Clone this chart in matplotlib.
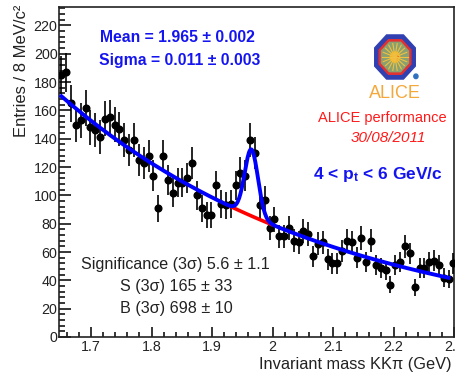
import numpy as np
import matplotlib
matplotlib.use("Agg")
from matplotlib import pyplot as plt
from matplotlib.ticker import MultipleLocator, FuncFormatter
from matplotlib.patches import RegularPolygon, Circle

plt.rcParams['font.family'] = ['Liberation Sans', 'DejaVu Sans']
plt.rcParams['mathtext.default'] = 'regular'

# invariant mass histogram, 8 MeV bins (bin centres in GeV)
first_bin = 1.651
bin_width = 0.008
counts = [185, 187, 165, 150, 153, 162, 148, 146, 141, 154,
          155, 150, 147, 139, 132, 139, 125, 123, 128, 114,
          91, 128, 111, 102, 109, 109, 112, 123, 100, 91,
          86, 86, 107, 94, 93, 94, 107, 116, 114, 139,
          130, 93, 97, 77, 83, 71, 71, 77, 68, 67,
          75, 73, 57, 66, 67, 55, 52, 52, 61, 68,
          67, 56, 70, 53, 68, 51, 49, 47, 37, 51,
          53, 64, 59, 35, 49, 49, 53, 54, 51, 42,
          41, 52]

# fit: gaussian signal + exponential background
fit_mean = 1.965
fit_sigma = 0.011
fit_amp = 47.0
bkg_norm = 170.0      # background at fit_lo
bkg_slope = -2.19
fit_lo, fit_hi = 1.651, 2.291

mass = first_bin + bin_width * np.arange(len(counts))
counts = np.array(counts, dtype=float)
errs = np.sqrt(counts)

def bkg(m):
    return bkg_norm * np.exp(bkg_slope * (m - fit_lo))

def total(m):
    return bkg(m) + fit_amp * np.exp(-0.5 * ((m - fit_mean) / fit_sigma) ** 2)

W, H = 456, 375
fig = plt.figure(figsize=(W / 100, H / 100), dpi=100)
ax = fig.add_axes([59 / W, 1 - 337 / H, (454 - 59) / W, (337 - 7) / H])

def fx(x):
    return x / W

def fy(y):
    return 1 - y / H

ax.errorbar(mass, counts, yerr=errs, fmt='o', color='black', ms=4.8,
            elinewidth=1.2, capsize=0, zorder=3)

m_all = np.linspace(fit_lo, fit_hi, 600)
m_sig = np.linspace(fit_mean - 3 * fit_sigma, fit_mean + 3 * fit_sigma, 100)
ax.plot(m_sig, bkg(m_sig), color='#ff0000', lw=2.6, zorder=4)
ax.plot(m_all, total(m_all), color='#0000ff', lw=2.8, zorder=5)

ax.set_xlim(1.647, 2.30)
ax.set_ylim(0, 233)
ax.xaxis.set_major_locator(MultipleLocator(0.1))
ax.xaxis.set_minor_locator(MultipleLocator(0.02))
ax.yaxis.set_major_locator(MultipleLocator(20))
ax.yaxis.set_minor_locator(MultipleLocator(4))
ax.xaxis.set_major_formatter(FuncFormatter(lambda v, p: '%g' % round(v, 2)))
ax.tick_params(which='both', direction='in', top=False, right=False,
               width=1.1, colors='black', labelcolor='#222222', labelsize=10.3)
ax.tick_params(axis='y', which='major', length=8.5, pad=1)
ax.tick_params(axis='y', which='minor', length=4.3)
ax.tick_params(axis='x', which='major', length=7.2, pad=2)
ax.tick_params(axis='x', which='minor', length=3.6)
for s in ax.spines.values():
    s.set_linewidth(1.2)
    s.set_color('#222222')

# axis titles
fig.text(fx(22), fy(5), 'Entries / 8 MeV/c²', rotation=90, ha='center',
         va='top', fontsize=12, color='#222222')
fig.text(fx(452), fy(364), 'Invariant mass KKπ (GeV)', ha='right',
         va='center', fontsize=11.8, color='#222222')

# fit results
fig.text(fx(100), fy(38), 'Mean = 1.965 ± 0.002', color='#1414f0',
         fontsize=11.3, fontweight='bold', va='center')
fig.text(fx(99), fy(60), 'Sigma = 0.011 ± 0.003', color='#1414f0',
         fontsize=11.3, fontweight='bold', va='center')

fig.text(fx(175), fy(265), 'Significance (3σ) 5.6 ± 1.1', ha='center',
         va='center', fontsize=11.6, color='#222222')
fig.text(fx(176), fy(287), 'S (3σ) 165 ± 33', ha='center',
         va='center', fontsize=11.6, color='#222222')
fig.text(fx(176), fy(308), 'B (3σ) 698 ± 10', ha='center',
         va='center', fontsize=11.6, color='#222222')

fig.text(fx(382), fy(118), 'ALICE performance', ha='center', va='center',
         fontsize=10.5, color='#ff1a1a')
fig.text(fx(388), fy(138), '30/08/2011', ha='center', va='center',
         fontsize=11, color='#ff1a1a', style='italic')
fig.text(fx(378), fy(175), r'4 < p$_{t}$ < 6 GeV/c', ha='center',
         va='center', fontsize=12.5, color='#1414f0', fontweight='bold')
fig.text(fx(395), fy(93), 'ALICE', ha='center', va='center',
         fontsize=13, color='#f5a83a')

# ALICE logo (octagon)
lax = fig.add_axes([fx(372), fy(82), 46 / W, 50 / H])
lax.set_xlim(-1.1, 1.1)
lax.set_ylim(-1.1, 1.1)
lax.axis('off')
lax.add_patch(RegularPolygon((0, 0), 8, radius=1.05, orientation=np.pi / 8,
                             color='#3040b0'))
lax.add_patch(RegularPolygon((0, 0), 8, radius=0.82, orientation=np.pi / 8,
                             color='#e53030'))
lax.add_patch(RegularPolygon((0, 0), 8, radius=0.7, orientation=np.pi / 8,
                             color='#8aa070'))
for a in np.arange(0, 2 * np.pi, np.pi / 9):
    lax.plot([0, 0.6 * np.cos(a)], [0, 0.6 * np.sin(a)], color='#f0c040',
             lw=0.8)
lax.add_patch(Circle((0, 0), 0.22, color='#f5b020'))
lax.add_patch(Circle((0.05, -0.02), 0.1, color='#e04020'))
lax.add_patch(Circle((1.0, -0.85), 0.1, color='#3070c0', clip_on=False))

fig.savefig('out.png', dpi=100)
